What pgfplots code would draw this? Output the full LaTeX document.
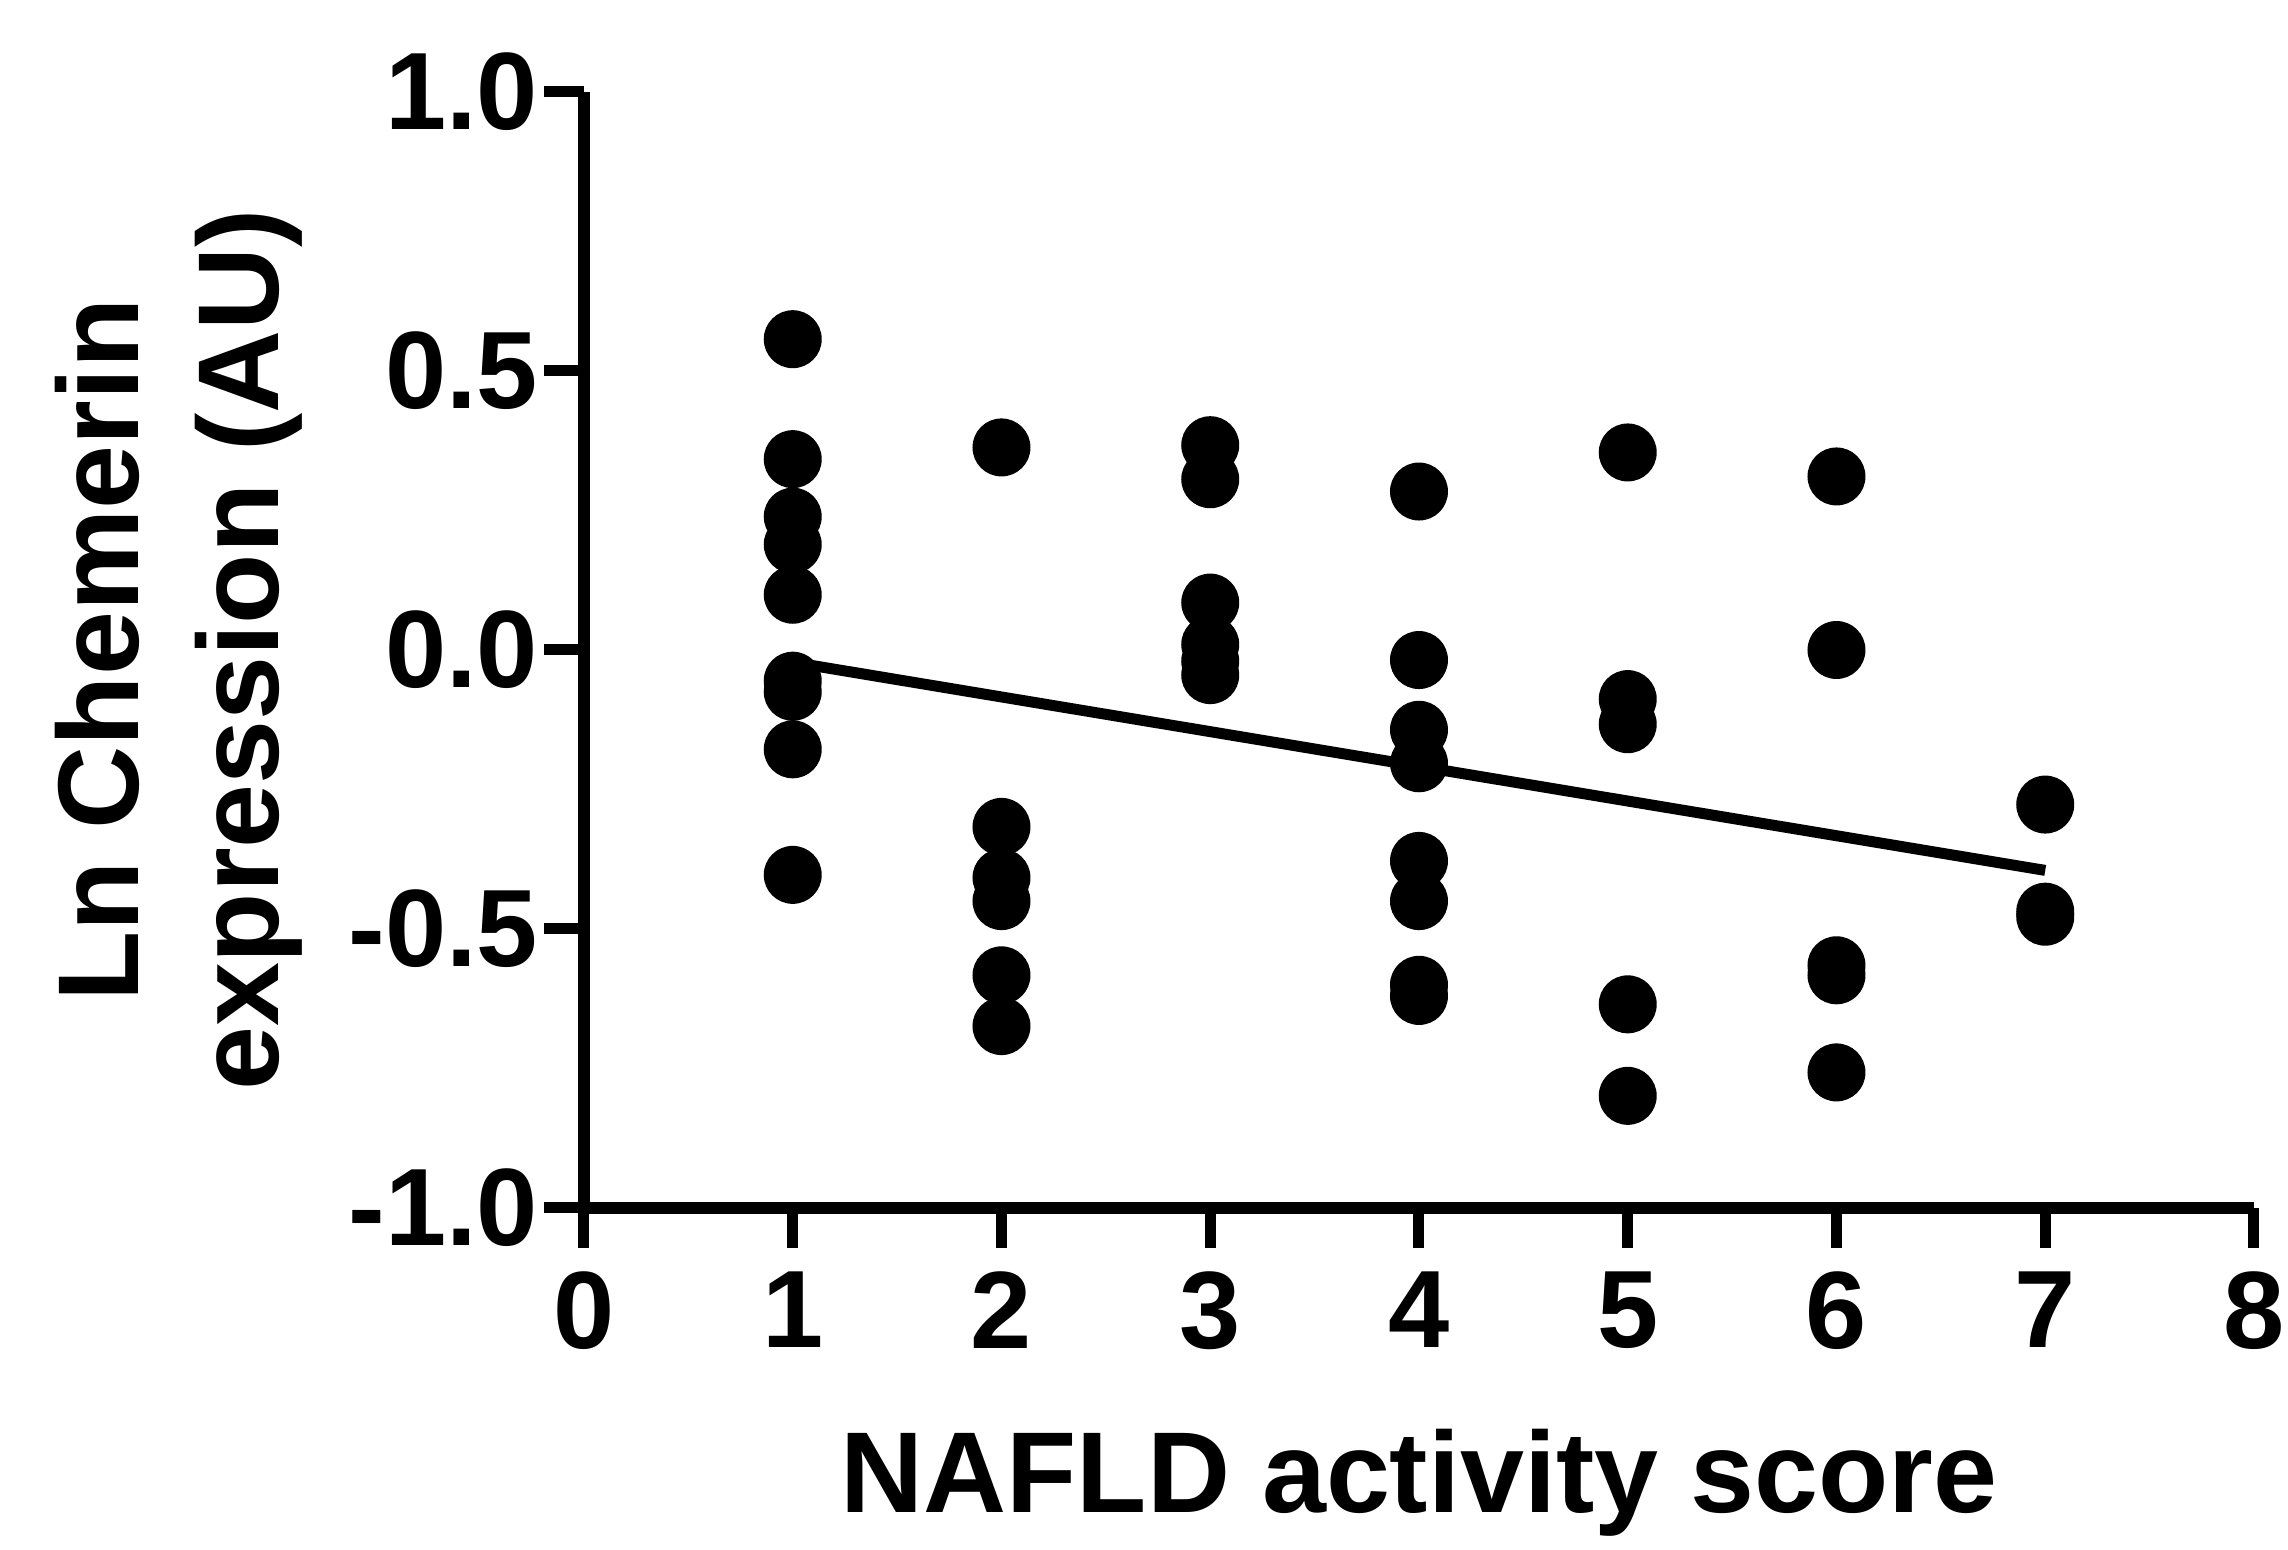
\documentclass[border=0pt]{standalone}
\usepackage{fontspec}
\setmainfont{Liberation Sans}
\usepackage{pgfplots}
\pgfplotsset{compat=1.18}

\begin{document}
\begin{tikzpicture}
\begin{axis}[
  scale only axis,
  width=334pt, height=223.2pt,
  xmin=0, xmax=8, ymin=-1, ymax=1,
  axis x line*=bottom, axis y line*=left,
  axis line style={-, line width=2.5pt},
  xtick={0,1,2,3,4,5,6,7,8},
  xticklabels={0,1,2,3,4,5,6,7,8},
  ytick={-1,-0.5,0,0.5,1},
  yticklabels={-1.0,-0.5,0.0,0.5,1.0},
  tick align=outside,
  major tick length=8pt,
  tick style={line width=2.2pt, black},
  ticklabel style={font=\fontsize{22}{26}\selectfont\bfseries},
  yticklabel style={inner sep=1pt},
  xticklabel style={inner sep=2pt, yshift=-2.6pt},
  xlabel={NAFLD activity score},
  ylabel={Ln Chemerin\\expression (AU)},
  label style={font=\fontsize{23}{28}\selectfont\bfseries},
  xlabel style={yshift=-10.2pt},
  ylabel style={align=center, yshift=4.7pt},
  clip=false,
]
\coordinate (o) at (axis cs:0,-1);

% data points
\addplot[only marks, mark=*, mark size=5.6pt, black] coordinates {
  (1,0.557) (1,0.342) (1,0.239) (1,0.189) (1,0.099) (1,-0.055) (1,-0.075) (1,-0.178) (1,-0.403)
  (2,0.363) (2,-0.317) (2,-0.408) (2,-0.450) (2,-0.583) (2,-0.674)
  (3,0.367) (3,0.306) (3,0.085) (3,0.010) (3,-0.020) (3,-0.045)
  (4,0.284) (4,-0.018) (4,-0.143) (4,-0.203) (4,-0.378) (4,-0.450) (4,-0.600) (4,-0.620)
  (5,0.354) (5,-0.088) (5,-0.133) (5,-0.635) (5,-0.799)
  (6,0.311) (6,0.000) (6,-0.565) (6,-0.583) (6,-0.757)
  (7,-0.277) (7,-0.469) (7,-0.478)
};

% regression line
\addplot[black, line width=2.2pt, no marks] coordinates {
  (1,-0.022) (7,-0.395)
};
\end{axis}
\pgfresetboundingbox
\path (o) ++(-116.8pt,-68.4pt) rectangle ++(457.6pt,310pt);
\end{tikzpicture}
\end{document}
